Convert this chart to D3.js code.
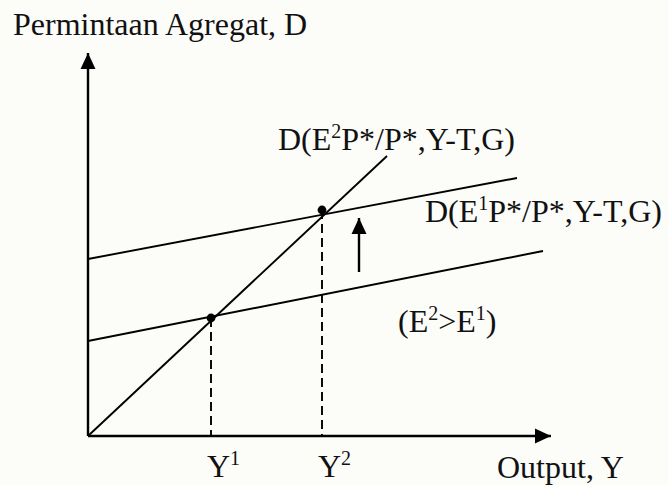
<!DOCTYPE html>
<html>
<head>
<meta charset="utf-8">
<script src="https://cdn.jsdelivr.net/npm/d3@7"></script>
<style>
  html, body { margin: 0; padding: 0; background: #fcfcf8; }
  svg { display: block; }
  text { font-family: "Liberation Serif", "Times New Roman", serif; fill: #111; }
</style>
</head>
<body>
<div id="chart"></div>
<script>
const W = 668, H = 485;
const origin = { x: 88, y: 436 };

// model units (same scale on both axes)
const xMax = 463, yMax = 383;

// lines: [x0, y0, x1, y1]
const line45 = [0, 0, 299, 280];
const adLow = [0, 95, 455, 185];
const adHigh = [0, 177, 429, 258];

// equilibria
const equilibria = [
    { name: "Y1", x: 123, y: 118 },
    { name: "Y2", x: 234, y: 226 }
];

// shift arrow
const shift = { x: 271, from: 164, to: 218 };

const x = d3.scaleLinear().domain([0, xMax]).range([origin.x, origin.x + xMax]);
const y = d3.scaleLinear().domain([0, yMax]).range([origin.y, origin.y - yMax]);

const svg = d3.select("#chart")
    .append("svg")
    .attr("width", W)
    .attr("height", H);

svg.append("rect")
    .attr("width", W)
    .attr("height", H)
    .attr("fill", "#fcfcf8");

const defs = svg.append("defs");
defs.append("marker")
    .attr("id", "head")
    .attr("viewBox", "0 0 16 16")
    .attr("refX", 16)
    .attr("refY", 8)
    .attr("markerWidth", 16)
    .attr("markerHeight", 16)
    .attr("markerUnits", "userSpaceOnUse")
    .attr("orient", "auto")
    .append("path")
    .attr("d", "M0,0.5 L16,8 L0,15.5 Z")
    .attr("fill", "#000");

// axes
svg.append("line")
    .attr("x1", x(0)).attr("y1", y(0))
    .attr("x2", x(0)).attr("y2", y(yMax))
    .attr("stroke", "#000").attr("stroke-width", 2.4)
    .attr("marker-end", "url(#head)");

svg.append("line")
    .attr("x1", x(0)).attr("y1", y(0))
    .attr("x2", x(xMax)).attr("y2", y(0))
    .attr("stroke", "#000").attr("stroke-width", 2.4)
    .attr("marker-end", "url(#head)");

// dashed guides
svg.selectAll(".guide")
    .data(equilibria)
    .enter().append("line")
    .attr("class", "guide")
    .attr("x1", d => x(d.x)).attr("y1", d => y(d.y))
    .attr("x2", d => x(d.x)).attr("y2", y(0))
    .attr("stroke", "#000")
    .attr("stroke-width", 1.9)
    .attr("stroke-dasharray", "9,5");

// curves
svg.selectAll(".curve")
    .data([line45, adLow, adHigh])
    .enter().append("line")
    .attr("class", "curve")
    .attr("x1", d => x(d[0])).attr("y1", d => y(d[1]))
    .attr("x2", d => x(d[2])).attr("y2", d => y(d[3]))
    .attr("stroke", "#000")
    .attr("stroke-width", 1.9);

svg.selectAll(".dot")
    .data(equilibria)
    .enter().append("circle")
    .attr("class", "dot")
    .attr("cx", d => x(d.x))
    .attr("cy", d => y(d.y))
    .attr("r", 4.4)
    .attr("fill", "#000");

// shift arrow
svg.append("line")
    .attr("x1", x(shift.x)).attr("y1", y(shift.from))
    .attr("x2", x(shift.x)).attr("y2", y(shift.to))
    .attr("stroke", "#000").attr("stroke-width", 2.4)
    .attr("marker-end", "url(#head)");

// labels: parts, superscripts flagged
function label(px, py, parts) {
    const t = svg.append("text")
        .attr("x", px)
        .attr("y", py)
        .style("font-size", "32px");
    let raised = false;
    parts.forEach(p => {
        const s = t.append("tspan").text(p.t);
        if (p.sup) {
            s.attr("dy", -12).style("font-size", "20px");
            raised = true;
        } else if (raised) {
            s.attr("dy", 12);
            raised = false;
        }
    });
}

label(13, 35, [{ t: "Permintaan Agregat, D" }]);
label(278, 150, [{ t: "D(E" }, { t: "2", sup: true }, { t: "P*/P*,Y-T,G)" }]);
label(425, 222, [{ t: "D(E" }, { t: "1", sup: true }, { t: "P*/P*,Y-T,G)" }]);
label(398, 332, [{ t: "(E" }, { t: "2", sup: true }, { t: ">E" }, { t: "1", sup: true }, { t: ")" }]);
label(207, 477, [{ t: "Y" }, { t: "1", sup: true }]);
label(318, 477, [{ t: "Y" }, { t: "2", sup: true }]);
label(497, 478, [{ t: "Output, Y" }]);
</script>
</body>
</html>
